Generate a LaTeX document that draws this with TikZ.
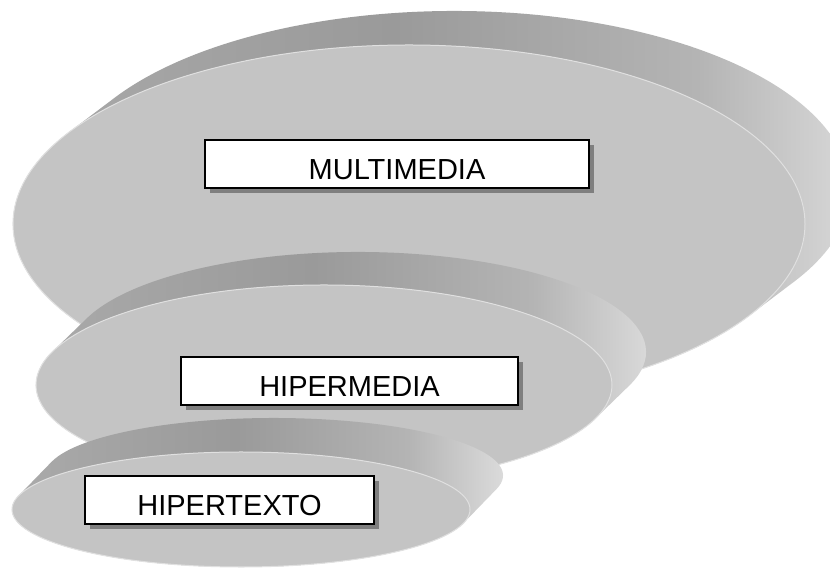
\documentclass[tikz,border=0pt]{standalone}
\usepackage{fontspec}
\setmainfont{Liberation Sans}
\usetikzlibrary{shadows}
\definecolor{facegray}{HTML}{C4C4C4}
\definecolor{faceedge}{HTML}{E0E0E0}
\definecolor{sA}{HTML}{ACACAC}
\definecolor{sB}{HTML}{9A9A9A}
\definecolor{sC}{HTML}{B4B4B4}
\definecolor{sD}{HTML}{E4E4E4}
\definecolor{shadowgray}{HTML}{7F7F7F}
\pgfdeclarehorizontalshading{sideshade}{100bp}{color(0bp)=(sA); color(25bp)=(sA); color(48bp)=(sB); color(64bp)=(sC); color(75bp)=(sD); color(100bp)=(sD)}
\tikzset{
  labelbox/.style={draw=black, line width=1.6pt, fill=white, minimum height=48pt,
    inner sep=0pt, text height=31pt, text depth=0pt,
    font=\fontsize{29}{31}\selectfont,
    general shadow={fill=shadowgray, shadow xshift=5pt, shadow yshift=-5pt}},
  facestyle/.style={fill=facegray, draw=faceedge, line width=1pt}
}
% #1 cx, #2 cy, #3 x radius, #4 y radius, #5 dx, #6 dy (extrusion)
\newcommand\drawdisk[6]{%
  \pgfmathsetmacro\dskT{atan(-(#4)*(#5)/((#3)*(#6)))}%
  \pgfmathsetmacro\dskTa{\dskT+180}%
  \pgfmathsetmacro\dskTb{\dskT+360}%
  \pgfmathsetmacro\dskAx{#1+(#3)*cos(\dskT)}%
  \pgfmathsetmacro\dskAy{#2+(#4)*sin(\dskT)}%
  \pgfmathsetmacro\dskBx{#1-(#3)*cos(\dskT)}%
  \pgfmathsetmacro\dskBy{#2-(#4)*sin(\dskT)}%
  \path[shading=sideshade] (\dskAx,\dskAy) -- ++(#5,#6)
     arc[start angle=\dskT, end angle=\dskTa, x radius=#3pt, y radius=#4pt]
     -- (\dskBx,\dskBy)
     arc[start angle=\dskTa, end angle=\dskTb, x radius=#3pt, y radius=#4pt]
     -- cycle;
  \path[facestyle] (#1,#2) ellipse [x radius=#3pt, y radius=#4pt];
}
\begin{document}
\begin{tikzpicture}[x=1pt,y=1pt]
\useasboundingbox (0,0) rectangle (830,569);
\clip (0,0) rectangle (830,569);
\fill[white] (0,0) rectangle (830,569);
% large disk
\drawdisk{409}{345}{396}{179}{45}{34}
\node[labelbox, minimum width=384pt] (multi) at (397,405) {MULTIMEDIA};
% middle disk
\drawdisk{324}{184}{288}{100}{34}{33}
\node[labelbox, minimum width=337pt] (hiperm) at (349.5,188) {HIPERMEDIA};
% small disk
\drawdisk{241}{59.5}{229}{57.5}{33}{34}
\node[labelbox, minimum width=289pt] (hipert) at (229.5,69) {HIPERTEXTO};
\end{tikzpicture}
\end{document}
